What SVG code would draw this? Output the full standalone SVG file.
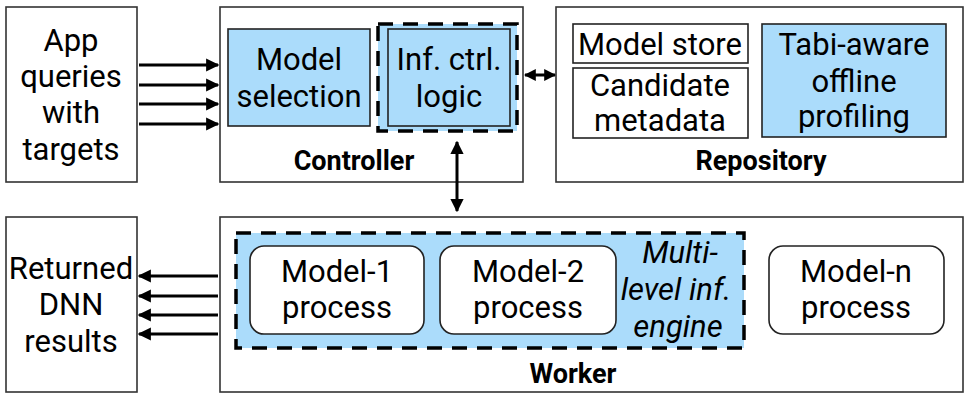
<svg xmlns="http://www.w3.org/2000/svg" width="972" height="404" viewBox="0 0 972 404">
<defs>
<marker id="ah" viewBox="0 0 10 10" refX="9" refY="5" markerWidth="4.4" markerHeight="4.4" orient="auto-start-reverse" markerUnits="strokeWidth">
<path d="M0,0 L10,5 L0,10 z" fill="#000"/>
</marker>
<marker id="ahs" viewBox="0 0 10 10" refX="9" refY="5" markerWidth="4" markerHeight="4" orient="auto-start-reverse" markerUnits="strokeWidth">
<path d="M0,0 L10,5 L0,10 z" fill="#000"/>
</marker>
</defs>
<style>
.outer{fill:#fff;stroke:#333;stroke-width:1.6}
.box{fill:#fff;stroke:#222;stroke-width:1.6}
.blue{fill:#abdcfb;stroke:#222;stroke-width:1.6}
.dash{fill:#abdcfb;stroke:#000;stroke-width:3.5;stroke-dasharray:15 10}
.t{font-family:Roboto,"Liberation Sans",sans-serif;font-size:31px;fill:#000;text-anchor:middle}
.b{font-family:Roboto,"Liberation Sans",sans-serif;font-size:27px;font-weight:bold;fill:#000;text-anchor:middle}
.i{font-style:italic}
.c{stroke:#000;stroke-width:3;fill:none}
</style>
<g id="app">
<rect class="outer" x="6" y="7" width="131" height="175"/>
<text class="t" x="71" y="51">App</text>
<text class="t" x="71" y="87">queries</text>
<text class="t" x="71" y="123">with</text>
<text class="t" x="71" y="160">targets</text>
</g>
<g id="controller">
<rect class="outer" x="220" y="7" width="303" height="175"/>
<text class="b" x="354" y="170">Controller</text>
</g>
<g id="model-selection">
<rect class="blue" x="228" y="29" width="142" height="97"/>
<text class="t" x="299" y="70">Model</text>
<text class="t" x="299" y="107">selection</text>
</g>
<g id="inf-ctrl">
<rect class="dash" x="378" y="24" width="139" height="107"/>
<rect class="blue" x="388" y="29" width="122" height="97"/>
<text class="t" x="449" y="70">Inf. ctrl.</text>
<text class="t" x="449" y="107">logic</text>
</g>
<g id="repository">
<rect class="outer" x="556" y="7" width="407" height="175"/>
<text class="b" x="761" y="170">Repository</text>
</g>
<g id="model-store">
<rect class="box" x="573" y="24" width="175" height="39"/>
<text class="t" x="660" y="55">Model store</text>
</g>
<g id="candidate-metadata">
<rect class="box" x="573" y="68" width="175" height="70"/>
<text class="t" x="660" y="96">Candidate</text>
<text class="t" x="660" y="131">metadata</text>
</g>
<g id="tabi-profiling">
<rect class="blue" x="762" y="24" width="184" height="113"/>
<text class="t" x="854" y="55">Tabi-aware</text>
<text class="t" x="854" y="92">offline</text>
<text class="t" x="854" y="127">profiling</text>
</g>
<g id="returned">
<rect class="outer" x="6" y="217" width="131" height="175"/>
<text class="t" x="71" y="279">Returned</text>
<text class="t" x="71" y="315">DNN</text>
<text class="t" x="71" y="352">results</text>
</g>
<g id="worker">
<rect class="outer" x="220" y="217" width="743" height="175"/>
<text class="b" x="573" y="383">Worker</text>
</g>
<g id="engine">
<rect class="dash" x="236" y="233" width="508" height="115"/>
<text class="t i" x="680" y="263">Multi-</text>
<text class="t i" x="676" y="300">level inf.</text>
<text class="t i" x="678" y="337">engine</text>
</g>
<g id="model-1">
<rect class="box" x="250" y="246" width="174" height="88" rx="14"/>
<text class="t" x="337" y="282">Model-1</text>
<text class="t" x="337" y="318">process</text>
</g>
<g id="model-2">
<rect class="box" x="440" y="246" width="176" height="88" rx="14"/>
<text class="t" x="528" y="282">Model-2</text>
<text class="t" x="528" y="318">process</text>
</g>
<g id="model-n">
<rect class="box" x="769" y="246" width="175" height="88" rx="14"/>
<text class="t" x="856" y="282">Model-n</text>
<text class="t" x="856" y="318">process</text>
</g>
<g id="connectors">
<line class="c" x1="139" y1="65" x2="218" y2="65" marker-end="url(#ah)"/>
<line class="c" x1="139" y1="85" x2="218" y2="85" marker-end="url(#ah)"/>
<line class="c" x1="139" y1="104" x2="218" y2="104" marker-end="url(#ah)"/>
<line class="c" x1="139" y1="124" x2="218" y2="124" marker-end="url(#ah)"/>
<line class="c" x1="525" y1="75" x2="555" y2="75" marker-start="url(#ahs)" marker-end="url(#ahs)"/>
<line class="c" x1="457" y1="142" x2="457" y2="211" marker-start="url(#ah)" marker-end="url(#ah)"/>
<line class="c" x1="218" y1="276" x2="139" y2="276" marker-end="url(#ah)"/>
<line class="c" x1="218" y1="296" x2="139" y2="296" marker-end="url(#ah)"/>
<line class="c" x1="218" y1="315" x2="139" y2="315" marker-end="url(#ah)"/>
<line class="c" x1="218" y1="334" x2="139" y2="334" marker-end="url(#ah)"/>
</g>
</svg>
